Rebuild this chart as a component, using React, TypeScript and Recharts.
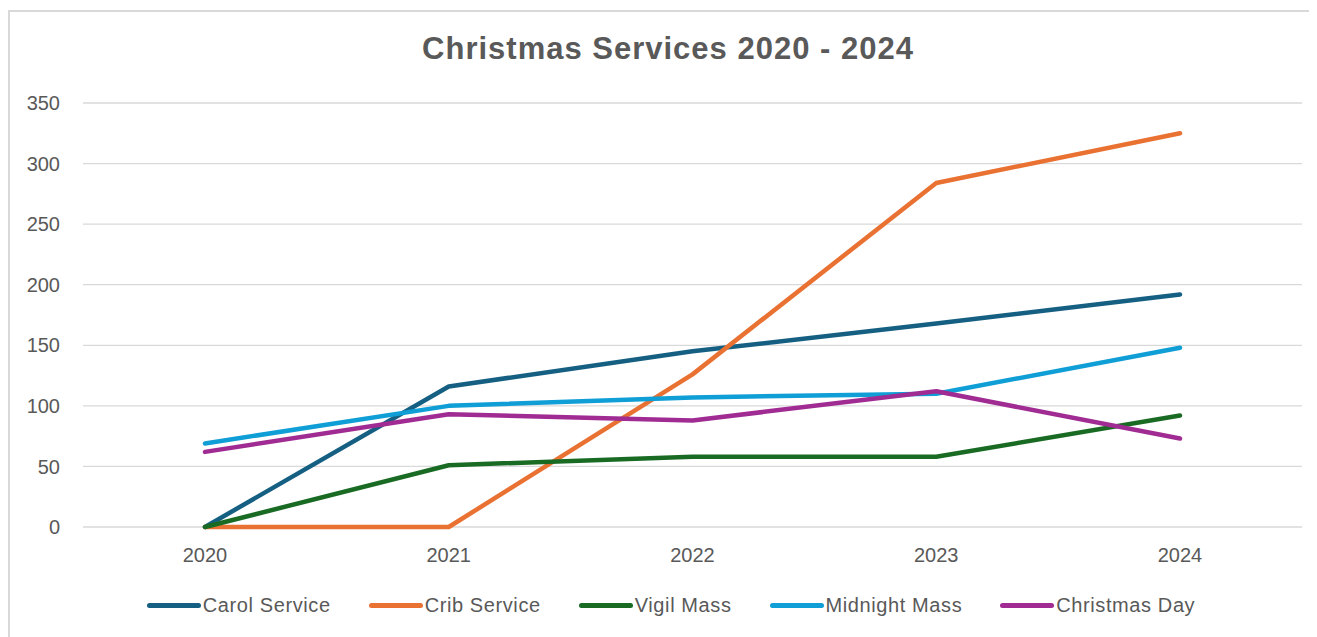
import React from 'react';
import { LineChart, Line, CartesianGrid, XAxis, YAxis, Legend } from 'recharts';

const years = ['2020', '2021', '2022', '2023', '2024'];
const carolService = [0, 116, 145, 168, 192];
const cribService = [0, 0, 126, 284, 325];
const vigilMass = [0, 51, 58, 58, 92];
const midnightMass = [69, 100, 107, 110, 148];
const christmasDay = [62, 93, 88, 112, 73];
const yTicks = [0, 50, 100, 150, 200, 250, 300, 350];

const series = [
	{ key: 'Carol Service', values: carolService, color: '#156082' },
	{ key: 'Crib Service', values: cribService, color: '#E97132' },
	{ key: 'Vigil Mass', values: vigilMass, color: '#196B24' },
	{ key: 'Midnight Mass', values: midnightMass, color: '#0F9ED5' },
	{ key: 'Christmas Day', values: christmasDay, color: '#A02B93' }
];

const data = years.map((year, i) => {
	const row: Record<string, string | number> = { year };
	series.forEach((s) => {
		row[s.key] = s.values[i];
	});
	return row;
});

const font = '"Liberation Sans", Arial, sans-serif';
const textGrey = '#595959';
const gridGrey = '#d9d9d9';

const LegendContent = () => (
	<div style={{ display: 'flex', justifyContent: 'center', alignItems: 'center', height: 30, paddingLeft: 17, gap: 38 }}>
		{series.map((s) => (
			<div key={s.key} style={{ display: 'flex', alignItems: 'center' }}>
				<div style={{ width: 54, height: 5, borderRadius: 3, background: s.color, marginRight: 2 }} />
				<span style={{ fontFamily: font, fontSize: 20, color: textGrey, letterSpacing: 0.6 }}>{s.key}</span>
			</div>
		))}
	</div>
);

export default function App() {
	return (
		<div style={{ position: 'relative', width: 1309, height: 627, marginTop: 2, overflow: 'hidden' }}>
			<div
				style={{
					position: 'absolute',
					left: 0,
					top: 0,
					width: 1320,
					height: 640,
					borderTop: `2px solid ${gridGrey}`,
					borderLeft: `2px solid ${gridGrey}`,
					boxSizing: 'border-box'
				}}
			/>
			<div
				style={{
					position: 'absolute',
					left: 0,
					top: 21,
					width: 1320,
					textAlign: 'center',
					fontFamily: font,
					fontWeight: 'bold',
					fontSize: 31,
					letterSpacing: 1,
					color: textGrey
				}}
			>
				Christmas Services 2020 - 2024
			</div>
			<LineChart width={1309} height={627} data={data} margin={{ top: 93, right: 15, bottom: 17, left: 15 }}>
				<CartesianGrid stroke={gridGrey} strokeWidth={1.3} vertical={false} />
				<XAxis
					dataKey="year"
					height={63}
					padding={{ left: 122, right: 122 }}
					axisLine={false}
					tickLine={false}
					tickSize={0}
					tickMargin={21}
					tick={{ fill: textGrey, fontSize: 20, fontFamily: font }}
				/>
				<YAxis
					width={60}
					domain={[0, 350]}
					ticks={yTicks}
					axisLine={false}
					tickLine={false}
					tickSize={0}
					tickMargin={23}
					tick={{ fill: textGrey, fontSize: 20, fontFamily: font }}
				/>
				<Legend verticalAlign="bottom" content={<LegendContent />} />
				{series.map((s) => (
					<Line
						key={s.key}
						type="linear"
						dataKey={s.key}
						stroke={s.color}
						strokeWidth={4.5}
						strokeLinecap="round"
						strokeLinejoin="round"
						dot={false}
						activeDot={false}
						isAnimationActive={false}
					/>
				))}
			</LineChart>
		</div>
	);
}
